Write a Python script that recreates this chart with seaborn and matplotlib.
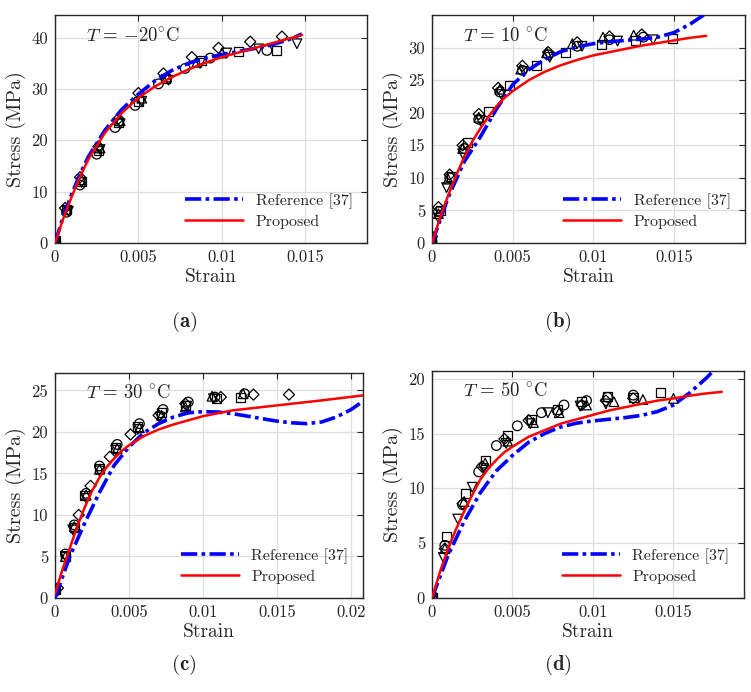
import numpy as np
import pandas as pd
import matplotlib
matplotlib.use('Agg')
import matplotlib.pyplot as plt
import seaborn as sns

sns.set_style('whitegrid')
plt.rcParams['font.family'] = ['cmr10', 'DejaVu Serif']
plt.rcParams['mathtext.fontset'] = 'cm'
plt.rcParams['axes.formatter.use_mathtext'] = True

# --- model curves (strain, stress in MPa) ---
# (a) T = -20 C
a_fit_x = [0, 0.0005, 0.001, 0.0015, 0.002, 0.003, 0.004, 0.005, 0.006, 0.007, 0.008, 0.009, 0.010, 0.011, 0.012, 0.013, 0.014, 0.0148]
a_ref_y = [0, 5.2, 9.5, 13.4, 16.8, 22.0, 26.0, 29.0, 31.6, 33.6, 35.0, 36.0, 36.7, 37.3, 37.9, 38.6, 39.6, 40.7]
a_prop_y = [0, 4.8, 9.0, 12.9, 16.3, 21.5, 25.3, 28.3, 30.5, 32.3, 33.8, 35.1, 36.2, 37.1, 38.0, 38.9, 39.8, 40.5]

# (b) T = 10 C
b_ref_x = [0, 0.001, 0.002, 0.003, 0.004, 0.005, 0.006, 0.007, 0.008, 0.009, 0.010, 0.011, 0.012, 0.013, 0.014, 0.015, 0.016, 0.0172]
b_ref_y = [0, 7.0, 12.5, 16.3, 20.6, 24.3, 26.6, 28.2, 29.4, 30.1, 30.6, 30.9, 31.1, 31.3, 31.6, 32.3, 33.6, 35.6]
b_prop_x = [0, 0.0005, 0.001, 0.0015, 0.002, 0.0025, 0.003, 0.0035, 0.004, 0.0045, 0.005, 0.006, 0.007, 0.008, 0.009, 0.010, 0.011, 0.012, 0.013, 0.014, 0.015, 0.016, 0.017]
b_prop_y = [0, 3.9, 7.3, 10.4, 13.2, 15.6, 17.6, 19.4, 21.0, 22.3, 23.3, 25.0, 26.3, 27.3, 28.1, 28.8, 29.3, 29.8, 30.3, 30.7, 31.1, 31.5, 31.8]

# (c) T = 30 C
c_ref_x = [0, 0.001, 0.002, 0.003, 0.004, 0.005, 0.006, 0.007, 0.008, 0.009, 0.010, 0.011, 0.012, 0.013, 0.014, 0.015, 0.016, 0.017, 0.018, 0.019, 0.020, 0.0208]
c_ref_y = [0, 5.0, 9.0, 12.7, 16.0, 18.2, 19.9, 21.0, 21.8, 22.3, 22.45, 22.4, 22.2, 21.9, 21.6, 21.3, 21.1, 21.0, 21.2, 21.8, 22.7, 23.7]
c_prop_x = [0, 0.0005, 0.001, 0.0015, 0.002, 0.0025, 0.003, 0.0035, 0.004, 0.0045, 0.005, 0.006, 0.007, 0.008, 0.009, 0.010, 0.012, 0.014, 0.016, 0.018, 0.0208]
c_prop_y = [0.5, 3.4, 6.0, 8.6, 10.9, 12.9, 14.5, 15.8, 16.8, 17.7, 18.4, 19.5, 20.3, 20.9, 21.4, 21.9, 22.6, 23.0, 23.4, 23.8, 24.4]

# (d) T = 50 C
d_ref_x = [0, 0.001, 0.002, 0.003, 0.004, 0.005, 0.006, 0.007, 0.008, 0.009, 0.010, 0.011, 0.012, 0.013, 0.014, 0.015, 0.016, 0.017, 0.0178]
d_ref_y = [0, 3.9, 7.0, 9.6, 11.6, 13.0, 14.2, 15.0, 15.6, 15.95, 16.15, 16.3, 16.45, 16.65, 17.0, 17.6, 18.7, 20.0, 21.2]
d_prop_x = [0, 0.0005, 0.001, 0.0015, 0.002, 0.0025, 0.003, 0.0035, 0.004, 0.0045, 0.005, 0.006, 0.007, 0.008, 0.009, 0.010, 0.011, 0.012, 0.013, 0.014, 0.015, 0.016, 0.017, 0.018]
d_prop_y = [0, 2.4, 4.5, 6.3, 7.9, 9.4, 10.8, 11.8, 12.6, 13.3, 13.8, 14.7, 15.3, 15.9, 16.3, 16.7, 17.1, 17.4, 17.7, 18.0, 18.2, 18.45, 18.65, 18.8]

# --- test data, one list pair per specimen marker ---
a_tests = {
    'o': ([0, 0.0007, 0.0015, 0.0025, 0.0036, 0.0048, 0.0062, 0.0078, 0.0093, 0.0127],
          [0.3, 6.0, 11.3, 17.3, 22.5, 26.8, 31.0, 34.0, 36.0, 37.5]),
    's': ([0, 0.0007, 0.0016, 0.0026, 0.0038, 0.005, 0.0066, 0.0088, 0.011, 0.0133],
          [0.5, 6.5, 12.0, 18.0, 23.5, 27.5, 32.0, 35.5, 37.2, 37.5]),
    'd': ([0, 0.0006, 0.0015, 0.0026, 0.0038, 0.005, 0.0065, 0.0082, 0.0098, 0.0117, 0.0136],
          [0.3, 6.8, 12.8, 18.8, 24.2, 29.2, 33.0, 36.2, 38.0, 39.2, 40.2]),
    '^': ([0, 0.0007, 0.0016, 0.0027, 0.0039, 0.0052, 0.0067, 0.0085, 0.0100],
          [0.5, 6.5, 12.3, 18.5, 23.8, 28.2, 32.3, 35.2, 37.0]),
    'v': ([0, 0.0008, 0.0016, 0.0027, 0.0039, 0.0052, 0.0068, 0.0087, 0.0103, 0.0122, 0.0145],
          [0.2, 6.2, 11.8, 18.2, 23.2, 27.6, 31.7, 35.0, 37.0, 37.8, 38.8]),
    '*': ([0, 0.0007, 0.0015, 0.0026, 0.0038, 0.005, 0.0065],
          [0.3, 7.0, 12.5, 19.0, 24.0, 29.0, 32.8]),
}
b_tests = {
    's': ([0.0005, 0.0012, 0.0022, 0.0035, 0.0048, 0.0065, 0.0083, 0.0105, 0.0126, 0.0149],
          [5.0, 10.2, 15.5, 20.2, 24.2, 27.2, 29.3, 30.5, 31.1, 31.4]),
    '^': ([0, 0.0004, 0.001, 0.0019, 0.0029, 0.0042, 0.0055, 0.0071, 0.0087, 0.0106, 0.0125],
          [0.7, 4.5, 9.8, 14.5, 19.3, 23.6, 26.7, 29.2, 30.6, 31.6, 31.9]),
    'd': ([0, 0.0004, 0.0011, 0.0019, 0.0029, 0.0041, 0.0056, 0.0072, 0.009, 0.011, 0.013],
          [1.0, 5.5, 10.5, 15.0, 19.8, 23.8, 27.2, 29.3, 30.8, 31.7, 32.0]),
    'v': ([0, 0.0004, 0.0009, 0.0019, 0.003, 0.0043, 0.0057, 0.0073, 0.0093, 0.0115, 0.0137],
          [0, 3.8, 8.5, 13.7, 18.8, 22.8, 26.3, 28.5, 30.2, 31.0, 31.2]),
    'o': ([0, 0.0004, 0.0011, 0.002, 0.0029, 0.0042, 0.0056, 0.0072, 0.009, 0.011, 0.0131],
          [0.2, 4.8, 10.0, 14.5, 19.0, 23.2, 26.5, 28.9, 30.2, 31.2, 31.6]),
}
c_tests = {
    'd': ([0.0002, 0.0016, 0.0024, 0.0037, 0.0051, 0.007, 0.0088, 0.0112, 0.0134, 0.0158],
          [1.2, 10.0, 13.5, 17.0, 19.7, 22.0, 23.4, 24.2, 24.5, 24.5]),
    'o': ([0, 0.0007, 0.0013, 0.0021, 0.003, 0.0042, 0.0057, 0.0073, 0.009, 0.0108, 0.0128],
          [0.8, 5.3, 8.8, 12.6, 15.9, 18.5, 21.0, 22.7, 23.6, 24.2, 24.6]),
    's': ([0, 0.0007, 0.0013, 0.002, 0.003, 0.0041, 0.0056, 0.0072, 0.0088, 0.0109, 0.0125],
          [1.0, 5.0, 8.5, 12.3, 15.6, 18.1, 20.6, 22.3, 23.2, 24.0, 24.2]),
    '^': ([0, 0.0007, 0.0013, 0.0021, 0.003, 0.0042, 0.0057, 0.0072, 0.0088, 0.0106, 0.0127],
          [1.0, 5.0, 8.6, 12.4, 15.5, 18.0, 20.5, 22.0, 23.0, 24.3, 24.6]),
    'v': ([0, 0.0007, 0.0012, 0.0021, 0.003, 0.0041, 0.0056, 0.0071, 0.0089, 0.0107],
          [0.6, 5.0, 8.2, 12.0, 15.3, 17.8, 20.3, 21.8, 23.1, 24.0]),
    '*': ([0, 0.0007, 0.0013, 0.0021, 0.003, 0.0042, 0.0057, 0.0073, 0.009, 0.0128],
          [1.0, 5.4, 9.0, 12.8, 16.0, 18.7, 21.0, 22.6, 23.7, 24.7]),
}
d_tests = {
    'o': ([0, 0.0008, 0.0019, 0.0029, 0.0040, 0.0053, 0.0068, 0.0082, 0.0096, 0.0109, 0.0125],
          [0.1, 4.8, 8.5, 11.5, 13.9, 15.7, 16.9, 17.6, 18.0, 18.3, 18.5]),
    's': ([0, 0.0009, 0.0021, 0.0033, 0.0047, 0.0062, 0.0078, 0.0093, 0.0109, 0.0125, 0.0142],
          [0, 5.6, 9.5, 12.5, 14.8, 16.3, 17.2, 17.9, 18.4, 18.3, 18.7]),
    '^': ([0, 0.0008, 0.002, 0.0033, 0.0047, 0.0063, 0.0079, 0.0096, 0.0113, 0.0131, 0.015],
          [0, 4.5, 8.8, 12.3, 14.3, 16.0, 16.9, 17.6, 17.9, 18.1, 18.2]),
    'v': ([0, 0.0007, 0.0016, 0.0025, 0.0032, 0.0046, 0.0061, 0.0072, 0.0092, 0.0108],
          [0, 3.7, 7.2, 10.1, 11.8, 14.1, 15.9, 16.9, 17.5, 17.7]),
    'd': ([0, 0.0008, 0.0019, 0.0031, 0.0045, 0.006, 0.0078, 0.0093, 0.0108, 0.0125],
          [0, 4.5, 8.6, 12.0, 14.5, 16.2, 17.0, 17.6, 18.0, 18.2]),
    '*': ([0, 0.0008, 0.002, 0.0032, 0.0045, 0.006, 0.0076, 0.0093, 0.0108, 0.0125, 0.0145],
          [0, 4.8, 9.0, 12.3, 14.8, 16.4, 17.5, 18.1, 18.5, 18.6, 18.8]),
}

x_ticks = [0, 0.005, 0.01, 0.015]
x_ticks_c = [0, 0.005, 0.01, 0.015, 0.02]

panels = [
    # title, rect (px: left, top, right, bottom), xmax, ymax, yticks, xticks, curves, tests, caption
    (r'$T\,=\,{-}20^{\circ}$C', (55, 15, 367, 243), 0.0187, 44.4, [0, 10, 20, 30, 40], x_ticks,
     (a_fit_x, a_ref_y, a_fit_x, a_prop_y), a_tests, 'a', (184, 322)),
    (r'$T\,=\,10\ ^{\circ}$C', (432, 15, 745, 243), 0.0194, 35.0, [0, 5, 10, 15, 20, 25, 30], x_ticks,
     (b_ref_x, b_ref_y, b_prop_x, b_prop_y), b_tests, 'b', (558, 322)),
    (r'$T\,=\,30\ ^{\circ}$C', (55, 373, 363, 598), 0.0208, 27.1, [0, 5, 10, 15, 20, 25], x_ticks_c,
     (c_ref_x, c_ref_y, c_prop_x, c_prop_y), c_tests, 'c', (184, 665)),
    (r'$T\,=\,50\ ^{\circ}$C', (432, 371, 744, 598), 0.01938, 20.7, [0, 5, 10, 15, 20], x_ticks,
     (d_ref_x, d_ref_y, d_prop_x, d_prop_y), d_tests, 'd', (558, 665)),
]

W, H = 751, 692
fig = plt.figure(figsize=(W / 100, H / 100), dpi=100)
markers = {'o': 'o', 's': 's', 'd': 'D', '^': '^', 'v': 'v', '*': (6, 2, 0)}
sizes = {'o': 48, 's': 42, 'd': 32, '^': 48, 'v': 48, '*': 55}

for title, (l, t, r, b), xmax, ymax, yt, xt, curves, tests, cap, cap_pos in panels:
    ax = fig.add_axes([l / W, 1 - b / H, (r - l) / W, (b - t) / H])
    for key, (xs, ys) in tests.items():
        sns.scatterplot(x=xs, y=ys, ax=ax, marker=markers[key], s=sizes[key],
                        color='black', facecolors='none', edgecolor='black',
                        linewidth=0.9, zorder=3)
    rx, ry, px, py = curves
    sns.lineplot(x=rx, y=ry, ax=ax, color='#0000ff', lw=2.6,
                 linestyle=(0, (4.5, 1.2, 1, 1.2)), label='Reference [37]', zorder=4)
    sns.lineplot(x=px, y=py, ax=ax, color='#ff0000', lw=1.8,
                 label='Proposed', zorder=5)
    ax.set_xlim(0, xmax)
    ax.set_ylim(0, ymax)
    ax.set_xticks(xt)
    ax.set_xticklabels(['%g' % v for v in xt])
    ax.set_yticks(yt)
    ax.set_yticklabels(['%g' % v for v in yt])
    ax.tick_params(direction='in', length=4, width=0.8, top=True, right=True,
                   labelsize=12, color='#262626', pad=5)
    ax.grid(True, color='#dedede', linewidth=0.9)
    for sp in ax.spines.values():
        sp.set_color('#262626')
        sp.set_linewidth(1.0)
    ax.set_xlabel('Strain', fontsize=14, labelpad=2)
    ax.set_ylabel('Stress (MPa)', fontsize=14.5, labelpad=4)
    ax.text(0.1, 0.91, title, transform=ax.transAxes, fontsize=13.5, va='center')
    ax.legend(loc='lower right', frameon=False, fontsize=11.5, handlelength=3.6,
              borderaxespad=0.5, labelspacing=0.35)
    fig.text(cap_pos[0] / W, 1 - cap_pos[1] / H, r'($\mathbf{%s}$)' % cap,
             fontsize=15, ha='center', va='center')

fig.savefig('out.png', dpi=100)
